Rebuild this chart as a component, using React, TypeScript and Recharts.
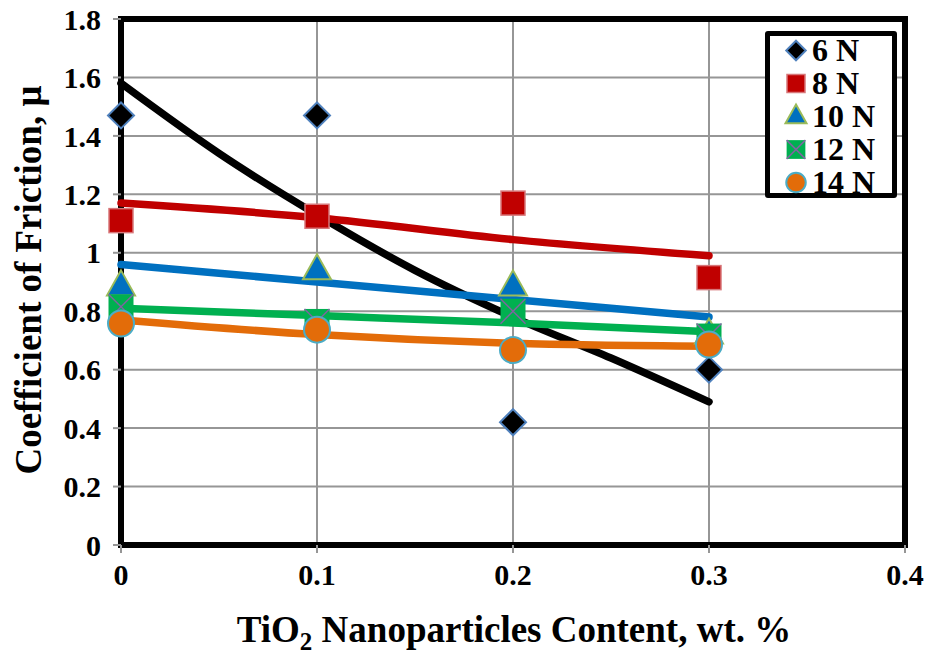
import React from 'react';
import {
  ComposedChart,
  Scatter,
  Line,
  XAxis,
  YAxis,
  CartesianGrid,
  ReferenceArea,
} from 'recharts';

// ---- data ----
const xValues = [0, 0.1, 0.2, 0.3];
const load6N = [1.47, 1.47, 0.42, 0.6];
const load8N = [1.11, 1.125, 1.17, 0.915];
const load10N = [0.885, 0.94, 0.885, 0.72];
const load12N = [0.815, 0.765, 0.8, 0.715];
const load14N = [0.758, 0.737, 0.667, 0.686];

// trendlines
const fitX6 = [0, 0.05, 0.1, 0.15, 0.2, 0.25, 0.3];
const fit6N = [1.58, 1.34, 1.13, 0.94, 0.78, 0.64, 0.49];
const fitX = [0, 0.1, 0.2, 0.3];
const fit8N = [1.17, 1.12, 1.045, 0.99];
const fit10N = [0.96, 0.9, 0.84, 0.78];
const fit12N = [0.81, 0.785, 0.76, 0.73];
const fit14N = [0.77, 0.72, 0.69, 0.68];

const seriesNames = ['6 N', '8 N', '10 N', '12 N', '14 N'];
const xTicks = [0, 0.1, 0.2, 0.3, 0.4];
const xTickLabels = ['0', '0.1', '0.2', '0.3', '0.4'];
const yTicks = [0, 0.2, 0.4, 0.6, 0.8, 1, 1.2, 1.4, 1.6, 1.8];
const yTickLabels = ['0', '0.2', '0.4', '0.6', '0.8', '1', '1.2', '1.4', '1.6', '1.8'];

const FONT = '"Liberation Serif", "Times New Roman", serif';

type Kind = 'diamond' | 'square' | 'triangle' | 'xsquare' | 'circle';

const toPoints = (xs: number[], ys: number[]) => xs.map((x, i) => ({ x, y: ys[i] }));

const series: { name: string; kind: Kind; color: string; points: { x: number; y: number }[]; fit: { x: number; y: number }[] }[] = [
  { name: seriesNames[0], kind: 'diamond', color: '#000000', points: toPoints(xValues, load6N), fit: toPoints(fitX6, fit6N) },
  { name: seriesNames[1], kind: 'square', color: '#C00000', points: toPoints(xValues, load8N), fit: toPoints(fitX, fit8N) },
  { name: seriesNames[2], kind: 'triangle', color: '#0070C0', points: toPoints(xValues, load10N), fit: toPoints(fitX, fit10N) },
  { name: seriesNames[3], kind: 'xsquare', color: '#00B050', points: toPoints(xValues, load12N), fit: toPoints(fitX, fit12N) },
  { name: seriesNames[4], kind: 'circle', color: '#E36C09', points: toPoints(xValues, load14N), fit: toPoints(fitX, fit14N) },
];

function Marker({ kind, cx, cy, s = 1 }: { kind: Kind; cx: number; cy: number; s?: number }) {
  if (cx == null || cy == null) return null;
  switch (kind) {
    case 'diamond': {
      const r = 13 * s;
      return (
        <polygon
          points={`${cx},${cy - r} ${cx + r},${cy} ${cx},${cy + r} ${cx - r},${cy}`}
          fill="#000"
          stroke="#4F81BD"
          strokeWidth={2}
        />
      );
    }
    case 'square': {
      const h = 12 * s;
      return <rect x={cx - h} y={cy - h} width={2 * h} height={2 * h} fill="#C00000" stroke="#D7777A" strokeWidth={1.5} />;
    }
    case 'triangle': {
      const w = 14 * s;
      return (
        <polygon
          points={`${cx},${cy - 16 * s} ${cx + w},${cy + 9 * s} ${cx - w},${cy + 9 * s}`}
          fill="#0070C0"
          stroke="#9BBB59"
          strokeWidth={2}
        />
      );
    }
    case 'xsquare': {
      const h = 12.5 * s;
      return (
        <g>
          <rect x={cx - h} y={cy - h} width={2 * h} height={2 * h} fill="#00B050" />
          <line x1={cx - h} y1={cy - h} x2={cx + h} y2={cy + h} stroke="#8064A2" strokeWidth={1.5} />
          <line x1={cx - h} y1={cy + h} x2={cx + h} y2={cy - h} stroke="#8064A2" strokeWidth={1.5} />
        </g>
      );
    }
    case 'circle':
    default:
      return <circle cx={cx} cy={cy} r={13 * s} fill="#E36C09" stroke="#4BACC6" strokeWidth={2} />;
  }
}

function LegendBox() {
  return (
    <div
      style={{
        position: 'absolute',
        left: 765,
        top: 31,
        boxSizing: 'border-box',
        width: 132,
        height: 167,
        border: '5px solid #000',
        borderRadius: 3,
        background: '#fff',
        fontFamily: FONT,
        fontWeight: 'bold',
        fontSize: 32,
        color: '#000',
      }}
    >
      <div style={{ marginTop: -2 }}>
        {series.map((s) => (
          <div key={s.name} style={{ display: 'flex', alignItems: 'center', height: 33, lineHeight: '33px' }}>
            <svg width={32} height={33} style={{ marginLeft: 10, display: 'block' }}>
              <Marker kind={s.kind} cx={16} cy={16.5} s={0.75} />
            </svg>
            <span style={{ whiteSpace: 'nowrap' }}>{s.name}</span>
          </div>
        ))}
      </div>
    </div>
  );
}

const tickStyle = { fill: '#000', fontSize: 30, fontWeight: 'bold', fontFamily: FONT };

export default function App() {
  return (
    <div style={{ position: 'absolute', left: 0, top: 0, width: 928, height: 655, background: '#fff' }}>
      <ComposedChart width={928} height={655} margin={{ top: 19, right: 23, bottom: 0, left: 0 }}>
        <CartesianGrid stroke="#969696" strokeWidth={2} />
        <XAxis
          type="number"
          dataKey="x"
          domain={[0, 0.4]}
          ticks={xTicks}
          tickFormatter={(v: number) => xTickLabels[xTicks.indexOf(v)] ?? String(v)}
          axisLine={false}
          tickLine={{ stroke: '#969696', strokeWidth: 2 }}
          tickSize={8}
          tickMargin={11}
          tick={tickStyle}
          height={110}
          label={{
            content: () => (
              <text x={514} y={642} textAnchor="middle" fontFamily={FONT} fontWeight="bold" fontSize={37} fill="#000">
                <tspan>TiO</tspan>
                <tspan fontSize={25} dy={8}>2</tspan>
                <tspan dy={-8}> Nanoparticles Content, wt. %</tspan>
              </text>
            ),
          }}
        />
        <YAxis
          type="number"
          dataKey="y"
          domain={[0, 1.8]}
          ticks={yTicks}
          tickFormatter={(v: number) => yTickLabels[yTicks.indexOf(v)] ?? String(v)}
          axisLine={false}
          tickLine={{ stroke: '#969696', strokeWidth: 2 }}
          tickSize={8}
          tickMargin={12}
          tick={tickStyle}
          width={121}
          label={{
            content: () => (
              <text
                x={28}
                y={280}
                transform="rotate(-90, 28, 280)"
                textAnchor="middle"
                dominantBaseline="central"
                fontFamily={FONT}
                fontWeight="bold"
                fontSize={37}
                fill="#000"
              >
                Coefficient of Friction, μ
              </text>
            ),
          }}
        />
        <ReferenceArea
          x1={0}
          x2={0.4}
          y1={0}
          y2={1.8}
          fill="none"
          fillOpacity={0}
          stroke="#000"
          strokeWidth={6}
          ifOverflow="visible"
        />
        {series.map((s) => (
          <Scatter
            key={`sc-${s.name}`}
            name={s.name}
            data={s.points}
            dataKey="y"
            isAnimationActive={false}
            shape={(p: any) => <Marker kind={s.kind} cx={p.cx} cy={p.cy} />}
          />
        ))}
        {series.map((s) => (
          <Line
            key={`fit-${s.name}`}
            data={s.fit}
            dataKey="y"
            type="monotone"
            stroke={s.color}
            strokeWidth={7.5}
            strokeLinecap="round"
            dot={false}
            activeDot={false}
            legendType="none"
            isAnimationActive={false}
          />
        ))}
      </ComposedChart>
      <LegendBox />
    </div>
  );
}
